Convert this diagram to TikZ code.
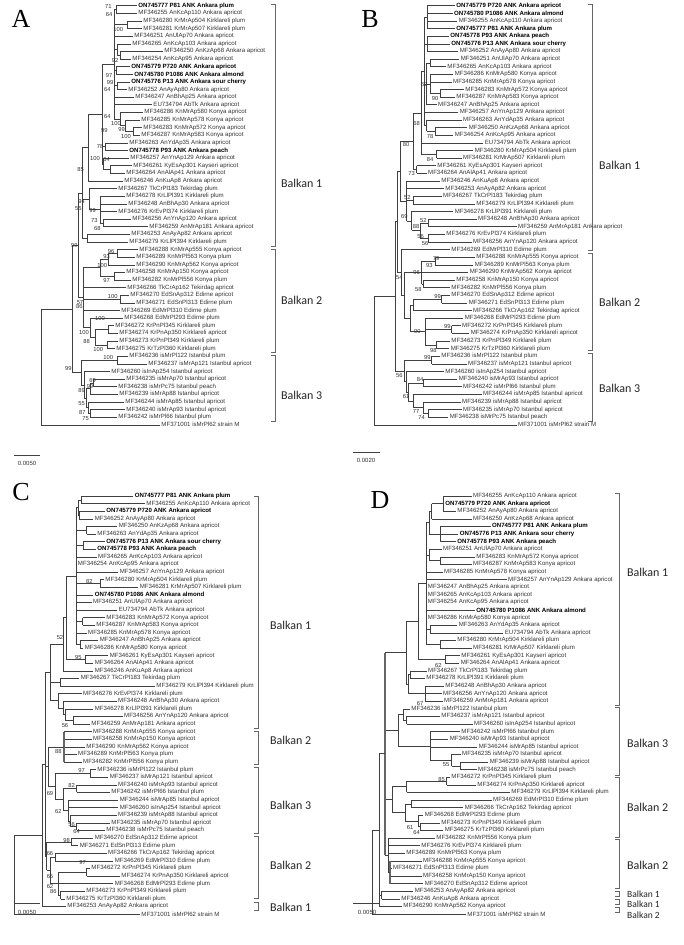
\documentclass[tikz,border=0pt]{standalone}
\usepackage{fontspec}
\setmainfont{Liberation Sans}
\newfontfamily\serifA{Liberation Serif}
\newfontfamily\balfont{Carlito}
\newcommand\lfont{\fontsize{6.1}{7}\selectfont}
\newcommand\lbfont{\fontsize{6.1}{7}\selectfont\bfseries}
\newcommand\bsfont{\fontsize{5.8}{6}\selectfont}
\tikzset{
  br/.style={draw=black!75,line width=0.55pt},
  brk/.style={draw=black!60,line width=1.6pt},
  lab/.style={anchor=west,inner sep=1.2pt,font=\lfont,text=black!80},
  labb/.style={anchor=west,inner sep=1.2pt,font=\lbfont,text=black},
  bs/.style={inner sep=0pt,font=\bsfont,text=black!80},
  bk/.style={draw=black!60,line width=0.6pt},
  bal/.style={anchor=west,inner sep=0pt,font=\balfont\fontsize{12}{13}\selectfont,text=black!85},
  bals/.style={anchor=west,inner sep=0pt,font=\balfont\fontsize{9.5}{10}\selectfont,text=black!85},
  pl/.style={font=\serifA\fontsize{26}{28}\selectfont},
  sc/.style={font=\fontsize{6}{7}\selectfont,text=black!80}
}
\def\yO{0}\def\yS{1}
\newcommand\yy[1]{(\yO+\yS*((#1)-1))}
\newcommand\Lf[4]{\draw[br] (#1,{\yy{#3}}) -- (#2,{\yy{#3}}) node[lab]{#4};}
\newcommand\Lb[4]{\draw[br] (#1,{\yy{#3}}) -- (#2,{\yy{#3}}) node[labb]{#4};}
\newcommand\Vt[3]{\draw[br] (#1,{\yy{#2}}) -- (#1,{\yy{#3}});}
\newcommand\Vk[3]{\draw[brk] (#1,{\yy{#2}}) -- (#1,{\yy{#3}});}
\newcommand\St[3]{\draw[br] (#1,{\yy{#3}}) -- (#2,{\yy{#3}});}
\newcommand\Bs[3]{\node[bs] at (#1,#2) {#3};}
\newcommand\Bk[3]{\draw[bk] (#1-4,#2) -- (#1,#2) -- (#1,#3) -- (#1-4,#3);}
\newcommand\Bt[3]{\node[bal] at (#1,#2) {#3};}
\newcommand\Bts[3]{\node[bals] at (#1,#2) {#3};}
\begin{document}
\begin{tikzpicture}[x=1pt,y=-1pt]
\fill[white] (0,0) rectangle (684,945);
\useasboundingbox (0,0) rectangle (684,945);
% ================= PANEL A =================
\node[pl] (pA) at (21,19) {A};
\def\yO{5.7}\def\yS{7.62}
\Lb{116}{137}{1}{ON745777 P81 ANK Ankara plum}
\Lf{116}{137}{2}{MF346255 AnKcAp110 Ankara apricot}
\Vt{116}{1}{2}\St{114}{116}{1.5}
\Lf{127}{142}{3}{MF346280 KrMrAp504 Kirklareli plum}
\Lf{127}{142}{4}{MF346281 KrMrAp507 Kirklareli plum}
\Vt{127}{3}{4}\St{114}{127}{3.5}
\Lf{114}{133}{5}{MF346251 AnUlAp70 Ankara apricot}
\Lf{117}{131}{6}{MF346265 AnKcAp103 Ankara apricot}
\Lf{120}{163}{7}{MF346250 AnKzAp68 Ankara apricot}
\Lf{120}{131}{8}{MF346254 AnKcAp95 Ankara apricot}
\Vt{120}{7}{8}\St{117}{120}{7.5}\Vt{117}{6}{7.5}\St{114}{117}{6.75}
\Lb{116}{130}{9}{ON745779 P720 ANK Ankara apricot}
\Lb{116}{133}{10}{ON745780 P1086 ANK Ankara almond}
\Vt{116}{9}{10}\St{114}{116}{9.5}
\Lb{117}{130}{11}{ON745776 P13 ANK Ankara sour cherry}
\Lf{117}{127}{12}{MF346252 AnAyAp80 Ankara apricot}
\Vt{117}{11}{12}\St{114}{117}{11.5}
\Lf{114}{134}{13}{MF346247 AnBhAp25 Ankara apricot}
\Lf{114}{152}{14}{EU734794 AbTk Ankara apricot}
\Lf{120}{143}{15}{MF346286 KnMrAp580 Konya apricot}
\Lf{125}{140}{16}{MF346285 KnMrAp578 Konya apricot}
\Lf{133}{142}{17}{MF346283 KnMrAp572 Konya apricot}
\Lf{133}{140}{18}{MF346287 KnMrAp583 Konya apricot}
\Vt{133}{17}{18}\St{125}{133}{17.5}\Vt{125}{16}{17.5}\St{120}{125}{16.75}\Vt{120}{15}{16.75}\St{114}{120}{15.875}
\Vt{114}{1.5}{15.875}\St{102}{114}{8.69}
\Lf{105}{128}{19}{MF346263 AnYdAp35 Ankara apricot}
\Lb{105}{128}{20}{ON745778 P93 ANK Ankara peach}
\Vt{105}{19}{20}\St{102}{105}{19.5}
\Lf{103}{129}{21}{MF346257 AnYnAp129 Ankara apricot}
\Lf{110}{132}{22}{MF346261 KyEsAp301 Kayseri apricot}
\Lf{110}{125}{23}{MF346264 AnAlAp41 Ankara apricot}
\Vt{110}{22}{23}\St{103}{110}{22.5}\Vt{103}{21}{22.5}\St{102}{103}{21.75}
\Vt{102}{8.69}{21.75}\St{88}{102}{15.22}
\Lf{88}{123}{24}{MF346246 AnKuAp8 Ankara apricot}
\Vt{88}{15.22}{24}\St{82}{88}{19.61}
\Lf{89}{117}{25}{MF346267 TkCrPl183 Tekirdag plum}
\Lf{100}{125}{26}{MF346278 KrLlPl391 Kirklareli plum}
\Lf{100}{127}{27}{MF346248 AnBhAp30 Ankara apricot}
\Lf{100}{117}{28}{MF346276 KrEvPl374 Kirklareli plum}
\Lf{103}{131}{29}{MF346256 AnYnAp120 Ankara apricot}
\Lf{103}{148}{30}{MF346259 AnMrAp181 Ankara apricot}
\Vt{103}{29}{30}\St{100}{103}{29.5}\Vt{100}{26}{29.5}\St{89}{100}{27.75}\Vt{89}{25}{27.75}\St{82}{89}{26.375}
\Lf{87}{130}{31}{MF346253 AnAyAp82 Ankara apricot}
\Lf{87}{128}{32}{MF346279 KrLlPl394 Kirklareli plum}
\Vt{87}{31}{32}\St{82}{87}{31.5}
\Vt{82}{19.61}{31.5}\St{78}{82}{25.56}
\Lf{117}{138}{33}{MF346288 KnMrAp555 Konya apricot}
\Lf{117}{135}{34}{MF346289 KnMrPl563 Konya plum}
\Vt{117}{33}{34}\St{108}{117}{33.5}
\Lf{108}{135}{35}{MF346290 KnMrAp562 Konya apricot}
\Vt{108}{33.5}{35}\St{100}{108}{34.25}
\Lf{114}{125}{36}{MF346258 KnMrAp150 Konya apricot}
\Lf{114}{131}{37}{MF346282 KnMrPl556 Konya plum}
\Vt{114}{36}{37}\St{100}{114}{36.5}
\Vt{100}{34.25}{36.5}\St{83}{100}{35.375}
\Lf{83}{126}{38}{MF346266 TkCrAp162 Tekirdag apricot}
\Lf{120}{129}{39}{MF346270 EdSnAp312 Edirne apricot}
\Lf{120}{135}{40}{MF346271 EdSnPl313 Edirne plum}
\Vt{120}{39}{40}\St{83}{120}{39.5}
\Lf{83}{120}{41}{MF346269 EdMrPl310 Edirne plum}
\Lf{90}{123}{42}{MF346268 EdMrPl293 Edirne plum}
\Lf{108}{114}{43}{MF346272 KrPnPl345 Kirklareli plum}
\Lf{108}{118}{44}{MF346274 KrPnAp350 Kirklareli apricot}
\Vt{108}{43}{44}\St{95}{108}{43.5}
\Lf{107}{118}{45}{MF346273 KrPnPl349 Kirklareli plum}
\Lf{107}{115}{46}{MF346275 KrTzPl360 Kirklareli plum}
\Vt{107}{45}{46}\St{95}{107}{45.5}
\Vt{95}{43.5}{45.5}\St{90}{95}{44.5}
\Vt{90}{42}{44.5}\St{83}{90}{43.25}
\Vt{83}{35.375}{43.25}\St{78}{83}{39.31}
\Vt{78}{25.56}{39.31}\St{72}{78}{32.44}
\Lf{117}{128}{47}{MF346236 isMrPl122 Istanbul plum}
\Lf{117}{147}{48}{MF346237 isMrAp121 Istanbul apricot}
\Vt{117}{47}{48}\St{81}{117}{47.5}
\Lf{84}{110}{49}{MF346260 isInAp254 Istanbul apricot}
\Lf{93}{125}{50}{MF346235 isMrAp70 Istanbul apricot}
\Lf{93}{117}{51}{MF346238 isMrPc75 Istanbul peach}
\Vt{93}{50}{51}\St{90}{93}{50.5}
\Lf{90}{118}{52}{MF346239 isMrAp88 Istanbul apricot}
\Vt{90}{50.5}{52}\St{86}{90}{51.25}
\Lf{88}{124}{53}{MF346244 isMrAp85 Istanbul apricot}
\Lf{90}{125}{54}{MF346240 isMrAp93 Istanbul apricot}
\Lf{90}{117}{55}{MF346242 isMrPl66 Istanbul plum}
\Vt{90}{54}{55}\St{88}{90}{54.5}
\Vt{88}{53}{54.5}\St{86}{88}{53.75}
\Vt{86}{51.25}{53.75}\St{84}{86}{52.5}
\Vt{84}{49}{52.5}\St{81}{84}{50.75}
\Vt{81}{47.5}{50.75}\St{72}{81}{49.125}
\Vt{72}{32.44}{49.125}\St{41}{72}{40.78}
\Vt{41}{40.78}{56}
\Lf{41}{160}{56}{MF371001 isMrPl62 strain M}
\Bs{108.3}{6.7}{71}\Bs{109}{15}{64}\Bs{118.3}{30}{100}\Bs{115}{60.7}{92}\Bs{109}{76}{97}
\Bs{110}{82.7}{99}\Bs{107.3}{89.3}{64}\Bs{107.3}{116.7}{64}\Bs{116}{124}{100}\Bs{104.3}{131}{99}
\Bs{121.7}{130}{99}\Bs{126}{136.7}{100}\Bs{100}{146.7}{78}\Bs{95}{158.3}{100}\Bs{106.7}{159.3}{64}
\Bs{80.7}{169.3}{85}\Bs{81.7}{201.7}{94}\Bs{78.3}{208.3}{55}\Bs{92.7}{210.7}{99}\Bs{94.3}{220}{73}
\Bs{97.3}{228.3}{68}\Bs{74.3}{245}{99}\Bs{111}{251}{96}\Bs{106.7}{256.7}{93}\Bs{102.3}{265}{100}
\Bs{106.7}{280.7}{97}\Bs{80}{302.7}{57}\Bs{79.3}{306.7}{86}\Bs{112.7}{296}{100}\Bs{100}{318.3}{100}
\Bs{84}{332.3}{100}\Bs{86.7}{341.7}{88}\Bs{98.3}{349.3}{100}\Bs{108.3}{357.7}{100}\Bs{68.3}{368.3}{99}
\Bs{92.7}{380}{69}\Bs{90}{386}{99}\Bs{81.7}{390}{89}\Bs{81.7}{403.3}{55}\Bs{82.3}{412.7}{87}\Bs{85.7}{418.3}{75}
\Bk{275}{4}{246}\Bk{275}{249}{352}\Bk{275}{355}{421}
\Bt{281}{183}{Balkan 1}\Bt{281}{300}{Balkan 2}\Bt{281}{395}{Balkan 3}
\draw[br] (14,455) -- (40,455);
\node[sc] (sA) at (27,463) {0.0050};
% ================= PANEL B =================
\node[pl] (pB) at (370,19) {B};
\def\yO{5.7}\def\yS{7.62}
\Lb{427}{455}{1}{ON745779 P720 ANK Ankara apricot}
\Lb{427}{452.7}{2}{ON745780 P1086 ANK Ankara almond}
\Lf{427}{457.3}{3}{MF346255 AnKcAp110 Ankara apricot}
\Lb{427}{455}{4}{ON745777 P81 ANK Ankara plum}
\Vt{427}{1}{4}\St{424}{427}{2.5}
\Lb{427}{449}{5}{ON745778 P93 ANK Ankara peach}
\Lb{427}{450}{6}{ON745776 P13 ANK Ankara sour cherry}
\Lf{427}{458.3}{7}{MF346252 AnAyAp80 Ankara apricot}
\Vt{427}{5}{7}\St{424}{427}{6}
\Lf{430.7}{459.3}{8}{MF346251 AnUlAp70 Ankara apricot}
\Lf{430.7}{446}{9}{MF346265 AnKcAp103 Ankara apricot}
\Vt{430.7}{8}{9}\St{426.5}{430.7}{8.5}
\Lf{430}{453.3}{10}{MF346286 KnMrAp580 Konya apricot}
\Lf{430}{451.7}{11}{MF346285 KnMrAp578 Konya apricot}
\Lf{440}{464}{12}{MF346283 KnMrAp572 Konya apricot}
\Lf{440}{455}{13}{MF346287 KnMrAp583 Konya apricot}
\Vt{440}{12}{13}\St{430}{440}{12.5}
\Vt{430}{10}{12.5}\St{426.5}{430}{11.25}
\Lf{426.5}{436.7}{14}{MF346247 AnBhAp25 Ankara apricot}
\Vt{426.5}{8.5}{14}\St{424}{426.5}{11.25}
\Lf{424}{458.3}{15}{MF346257 AnYnAp129 Ankara apricot}
\Lf{426.7}{461.7}{16}{MF346263 AnYdAp35 Ankara apricot}
\Lf{435}{467.3}{17}{MF346250 AnKzAp68 Ankara apricot}
\Lf{435}{453.3}{18}{MF346254 AnKcAp95 Ankara apricot}
\Vt{435}{17}{18}\St{426.7}{435}{17.5}
\Vt{426.7}{16}{17.5}\St{424}{426.7}{16.75}
\Vt{424}{2.5}{16.75}\St{421}{424}{9.625}
\Lf{421}{483.3}{19}{EU734794 AbTk Ankara apricot}
\Lf{436.7}{473.3}{20}{MF346280 KrMrAp504 Kirklareli plum}
\Lf{436.7}{461.7}{21}{MF346281 KrMrAp507 Kirklareli plum}
\Vt{436.7}{20}{21}\St{421}{436.7}{20.5}
\Vt{421}{9.625}{20.5}\St{413}{421}{15.06}
\Lf{416.7}{436}{22}{MF346261 KyEsAp301 Kayseri apricot}
\Lf{416.7}{426.7}{23}{MF346264 AnAlAp41 Ankara apricot}
\Vt{416.7}{22}{23}\St{413}{416.7}{22.5}
\Vt{413}{15.06}{22.5}\St{400}{413}{18.78}
\Lf{406.7}{440}{24}{MF346246 AnKuAp8 Ankara apricot}
\Lf{406.7}{444}{25}{MF346253 AnAyAp82 Ankara apricot}
\Lf{413.3}{441.7}{26}{MF346267 TkCrPl183 Tekirdag plum}
\Lf{413.3}{475}{27}{MF346279 KrLlPl394 Kirklareli plum}
\Vt{413.3}{26}{27}\St{406.7}{413.3}{26.5}
\Lf{411.7}{453.3}{28}{MF346278 KrLlPl391 Kirklareli plum}
\Lf{428.3}{476.7}{29}{MF346248 AnBhAp30 Ankara apricot}
\Lf{428.3}{516.7}{30}{MF346259 AnMrAp181 Ankara apricot}
\Vt{428.3}{29}{30}\St{420}{428.3}{29.5}
\Lf{428.3}{445}{31}{MF346276 KrEvPl374 Kirklareli plum}
\Lf{428.3}{471.7}{32}{MF346256 AnYnAp120 Ankara apricot}
\Vt{428.3}{31}{32}\St{420}{428.3}{31.5}
\Vt{420}{29.5}{31.5}\St{411.7}{420}{30.5}
\Vt{411.7}{28}{30.5}\St{406.7}{411.7}{29.25}
\Vt{406.7}{24}{29.25}\St{400}{406.7}{26.625}
\Vt{400}{18.78}{26.625}\St{397}{400}{22.70}
\Lf{401}{450}{33}{MF346269 EdMrPl310 Edirne plum}
\Lf{435}{475}{34}{MF346288 KnMrAp555 Konya apricot}
\Lf{435}{473.3}{35}{MF346289 KnMrPl563 Konya plum}
\Vt{435}{34}{35}\St{421.7}{435}{34.5}
\Lf{421.7}{468.3}{36}{MF346290 KnMrAp562 Konya apricot}
\Lf{423.3}{455}{37}{MF346258 KnMrAp150 Konya apricot}
\Lf{423.3}{450}{38}{MF346282 KnMrPl556 Konya plum}
\Vt{423.3}{37}{38}\St{421.7}{423.3}{37.5}
\Vt{421.7}{34.5}{37.5}\St{404}{421.7}{36}
\Lf{441.7}{450}{39}{MF346270 EdSnAp312 Edirne apricot}
\Lf{441.7}{467.3}{40}{MF346271 EdSnPl313 Edirne plum}
\Vt{441.7}{39}{40}\St{413.3}{441.7}{39.5}
\Lf{413.3}{471.7}{41}{MF346266 TkCrAp162 Tekirdag apricot}
\Vt{413.3}{39.5}{41}\St{410}{413.3}{40.25}
\Lf{425}{463.3}{42}{MF346268 EdMrPl293 Edirne plum}
\Lf{451.7}{460.7}{43}{MF346272 KrPnPl345 Kirklareli plum}
\Lf{451.7}{469.3}{44}{MF346274 KrPnAp350 Kirklareli apricot}
\Vt{451.7}{43}{44}\St{425}{451.7}{43.5}
\Lf{436.7}{450}{45}{MF346273 KrPnPl349 Kirklareli plum}
\Lf{436.7}{449.3}{46}{MF346275 KrTzPl360 Kirklareli plum}
\Vt{436.7}{45}{46}\St{425}{436.7}{45.5}
\Vt{425}{42}{45.5}\St{410}{425}{43.75}
\Vt{410}{40.25}{43.75}\St{404}{410}{42}
\Vt{404}{36}{42}\St{401}{404}{39}
\Vt{401}{33}{39}\St{397}{401}{36}
\Vt{397}{22.70}{36}\St{395}{397}{29.35}
\Lf{431.7}{440}{47}{MF346236 isMrPl122 Istanbul plum}
\Lf{431.7}{466.7}{48}{MF346237 isMrAp121 Istanbul apricot}
\Vt{431.7}{47}{48}\St{404}{431.7}{47.5}
\Lf{406}{444}{49}{MF346260 isInAp254 Istanbul apricot}
\Lf{423.3}{457.3}{50}{MF346240 isMrAp93 Istanbul apricot}
\Lf{423.3}{461.7}{51}{MF346242 isMrPl66 Istanbul plum}
\Vt{423.3}{50}{51}\St{408}{423.3}{50.5}
\Lf{413.3}{481.7}{52}{MF346244 isMrAp85 Istanbul apricot}
\Lf{423.3}{460.7}{53}{MF346239 isMrAp88 Istanbul apricot}
\Lf{428.3}{461.7}{54}{MF346235 isMrAp70 Istanbul apricot}
\Lf{428.3}{448.3}{55}{MF346238 isMrPc75 Istanbul peach}
\Vt{428.3}{54}{55}\St{423.3}{428.3}{54.5}
\Vt{423.3}{53}{54.5}\St{413.3}{423.3}{53.75}
\Vt{413.3}{52}{53.75}\St{408}{413.3}{52.875}
\Vt{408}{50.5}{52.875}\St{406}{408}{51.69}
\Vt{406}{49}{51.69}\St{404}{406}{50.34}
\Vt{404}{47.5}{50.34}\St{395}{404}{48.92}
\Vt{395}{29.35}{48.92}\St{374}{395}{39.14}
\Vt{374}{39.14}{56}
\Lf{374}{516.7}{56}{MF371001 isMrPl62 strain M}
\Bs{424.3}{85}{52}\Bs{435}{99}{90}\Bs{416.7}{123.3}{68}\Bs{430}{136.7}{78}\Bs{406}{145}{80}
\Bs{430}{159.3}{84}\Bs{411.7}{173.3}{73}\Bs{407.3}{197.3}{52}\Bs{404.3}{216}{69}\Bs{423.3}{220}{52}
\Bs{416}{226.7}{88}\Bs{420.7}{236.7}{56}\Bs{425}{243.3}{56}\Bs{436}{258.3}{79}\Bs{429.3}{265}{93}
\Bs{416.7}{272.7}{96}\Bs{399.3}{277.3}{54}\Bs{418.3}{289.3}{58}\Bs{437.7}{296}{99}\Bs{447.3}{326}{99}
\Bs{417.3}{331.7}{90}\Bs{433.3}{350}{98}\Bs{427.3}{357.7}{99}\Bs{399.3}{375}{56}\Bs{420}{379.3}{84}
\Bs{406}{396.7}{61}\Bs{416}{411.7}{77}\Bs{421.7}{417.3}{74}
\Bk{592}{4}{250}\Bk{592}{253}{350}\Bk{592}{353}{421}
\Bt{599}{165}{Balkan 1}\Bt{599}{302}{Balkan 2}\Bt{599}{388}{Balkan 3}
\draw[br] (353,452) -- (380,452);
\node[sc] (sB) at (366,460) {0.0020};
% ================= PANEL C =================
\node[pl] (pC) at (21,492) {C};
\def\yO{496}\def\yS{7.6}
\Lb{81.7}{133.3}{1}{ON745777 P81 ANK Ankara plum}
\Lf{81.7}{145}{2}{MF346255 AnKcAp110 Ankara apricot}
\Vt{81.7}{1}{2}\St{78.3}{81.7}{1.5}
\Lb{79.3}{105}{3}{ON745779 P720 ANK Ankara apricot}
\Lf{79.3}{93.3}{4}{MF346252 AnAyAp80 Ankara apricot}
\Vt{79.3}{3}{4}\St{78.3}{79.3}{3.5}
\Vt{78.3}{1.5}{3.5}\St{76}{78.3}{2.5}
\Lf{86.7}{117.3}{5}{MF346250 AnKzAp68 Ankara apricot}
\Lf{86.7}{96}{6}{MF346263 AnYdAp35 Ankara apricot}
\Vt{86.7}{5}{6}\St{76}{86.7}{5.5}
\Lb{83.3}{105}{7}{ON745776 P13 ANK Ankara sour cherry}
\Lb{83.3}{96}{8}{ON745778 P93 ANK Ankara peach}
\Vt{83.3}{7}{8}\St{76}{83.3}{7.5}
\Lf{76}{96.7}{9}{MF346265 AnKcAp103 Ankara apricot}
\Lf{76}{76.5}{10}{MF346254 AnKcAp95 Ankara apricot}
\Lf{76}{118.3}{11}{MF346257 AnYnAp129 Ankara apricot}
\Lf{100}{104}{12}{MF346280 KrMrAp504 Kirklareli plum}
\Lf{100}{138.3}{13}{MF346281 KrMrAp507 Kirklareli plum}
\Vt{100}{12}{13}\St{76}{100}{12.5}
\Lb{76}{93.3}{14}{ON745780 P1086 ANK Ankara almond}
\Lf{76}{91.7}{15}{MF346251 AnUlAp70 Ankara apricot}
\Lf{76}{117.3}{16}{EU734794 AbTk Ankara apricot}
\Lf{82.7}{105}{17}{MF346283 KnMrAp572 Konya apricot}
\Lf{82.7}{95}{18}{MF346287 KnMrAp583 Konya apricot}
\Vt{82.7}{17}{18}\St{76}{82.7}{17.5}
\Lf{76}{86.7}{19}{MF346285 KnMrAp578 Konya apricot}
\Lf{80}{98.3}{20}{MF346247 AnBhAp25 Ankara apricot}
\Lf{80}{83.3}{21}{MF346286 KnMrAp580 Konya apricot}
\Vt{80}{20}{21}\St{76}{80}{20.5}
\Vt{76}{2.5}{20.5}\St{66}{76}{11.5}
\Lf{85}{108.3}{22}{MF346261 KyEsAp301 Kayseri apricot}
\Lf{85}{93.3}{23}{MF346264 AnAlAp41 Ankara apricot}
\Vt{85}{22}{23}\St{66}{85}{22.5}
\Vt{66}{11.5}{22.5}\St{63}{66}{17}
\Lf{63}{93.3}{24}{MF346246 AnKuAp8 Ankara apricot}
\Vt{63}{17}{24}\St{50}{63}{20.5}
\Lf{60}{79.3}{25}{MF346267 TkCrPl183 Tekirdag plum}
\Lf{60}{155}{26}{MF346279 KrLlPl394 Kirklareli plum}
\Vt{60}{25}{26}\St{50}{60}{25.5}
\Lf{58.3}{81.7}{27}{MF346276 KrEvPl374 Kirklareli plum}
\Lf{63.3}{116.7}{28}{MF346248 AnBhAp30 Ankara apricot}
\Lf{65}{93.3}{29}{MF346278 KrLlPl391 Kirklareli plum}
\Lf{73.3}{122.7}{30}{MF346256 AnYnAp120 Ankara apricot}
\Lf{73.3}{90}{31}{MF346259 AnMrAp181 Ankara apricot}
\Vt{73.3}{30}{31}\St{65}{73.3}{30.5}
\Vt{65}{29}{30.5}\St{63.3}{65}{29.75}
\Vt{63.3}{28}{29.75}\St{58.3}{63.3}{28.875}
\Vt{58.3}{27}{28.875}\St{50}{58.3}{27.94}
\Vt{50}{20.5}{27.94}\St{45}{50}{24.22}
\Lf{64}{91.7}{32}{MF346288 KnMrAp555 Konya apricot}
\Lf{64}{91.7}{33}{MF346258 KnMrAp150 Konya apricot}
\Lf{64}{85}{34}{MF346290 KnMrAp562 Konya apricot}
\Lf{64}{76.7}{35}{MF346289 KnMrPl563 Konya plum}
\Lf{64}{81.7}{36}{MF346282 KnMrPl556 Konya plum}
\Vk{64}{32}{36}\St{48}{64}{34}
\Lf{90}{96}{37}{MF346236 isMrPl122 Istanbul plum}
\Lf{90}{108.3}{38}{MF346237 isMrAp121 Istanbul apricot}
\Vt{90}{37}{38}\St{55}{90}{37.5}
\Lf{76.7}{116.7}{39}{MF346240 isMrAp93 Istanbul apricot}
\Lf{76.7}{110}{40}{MF346242 isMrPl66 Istanbul plum}
\Vt{76.7}{39}{40}\St{63}{76.7}{39.5}
\Lf{68.3}{118.3}{41}{MF346244 isMrAp85 Istanbul apricot}
\Lf{68.3}{118.3}{42}{MF346260 isInAp254 Istanbul apricot}
\Lf{70}{116.7}{43}{MF346239 isMrAp88 Istanbul apricot}
\Lf{76.7}{110}{44}{MF346235 isMrAp70 Istanbul apricot}
\Lf{76.7}{105}{45}{MF346238 isMrPc75 Istanbul peach}
\Vt{76.7}{44}{45}\St{70}{76.7}{44.5}
\Vt{70}{43}{44.5}\St{68.3}{70}{43.75}
\Vt{68.3}{41}{43.75}\St{63}{68.3}{42.375}
\Vt{63}{39.5}{42.375}\St{55}{63}{40.94}
\Vt{55}{37.5}{40.94}\St{48}{55}{39.22}
\Vt{48}{34}{39.22}\St{45}{48}{36.61}
\Lf{71.7}{93.3}{46}{MF346270 EdSnAp312 Edirne apricot}
\Lf{71.7}{78.3}{47}{MF346271 EdSnPl313 Edirne plum}
\Vt{71.7}{46}{47}\St{46.5}{71.7}{46.5}
\Lf{55}{106.7}{48}{MF346266 TkCrAp162 Tekirdag apricot}
\Lf{55}{113.3}{49}{MF346269 EdMrPl310 Edirne plum}
\Vt{55}{48}{49}\St{50}{55}{48.5}
\Lf{86.7}{90}{50}{MF346272 KrPnPl345 Kirklareli plum}
\Lf{86.7}{120}{51}{MF346274 KrPnAp350 Kirklareli apricot}
\Vt{86.7}{50}{51}\St{58}{86.7}{50.5}
\Lf{58}{113.3}{52}{MF346268 EdMrPl293 Edirne plum}
\Lf{60.7}{85}{53}{MF346273 KrPnPl349 Kirklareli plum}
\Lf{60.7}{65}{54}{MF346275 KrTzPl360 Kirklareli plum}
\Vt{60.7}{53}{54}\St{58}{60.7}{53.5}
\Vt{58}{50.5}{53.5}\St{50}{58}{52}
\Vt{50}{48.5}{52}\St{46.5}{50}{50.25}
\Vt{46.5}{46.5}{50.25}\St{45}{46.5}{48.375}
\Vt{45}{24.22}{48.375}\St{42}{45}{36.3}
\Lf{42}{66}{55}{MF346253 AnAyAp82 Ankara apricot}
\Vt{42}{36.3}{55}\St{14}{42}{45.65}
\Vt{14}{45.65}{56}
\Lf{14}{140}{56}{MF371001 isMrPl62 strain M}
\Bs{89.3}{581.7}{82}\Bs{60}{637.7}{52}\Bs{78.3}{657.7}{95}\Bs{65}{725.7}{56}\Bs{58.3}{751}{88}
\Bs{81.7}{770}{97}\Bs{71.7}{785}{82}\Bs{50}{793.3}{69}\Bs{58.3}{811}{62}\Bs{71.7}{824.3}{56}
\Bs{76.7}{831.7}{64}\Bs{66.7}{840}{98}\Bs{50}{853.3}{66}\Bs{82.7}{862.3}{97}\Bs{50}{876.7}{65}
\Bs{50}{886}{62}\Bs{53.3}{891.7}{86}
\Bk{258}{496}{728}\Bk{258}{731}{764}\Bk{258}{767}{833}\Bk{258}{836}{898}\Bk{258}{902}{910}
\Bt{270}{625}{Balkan 1}\Bt{270}{740}{Balkan 2}\Bt{270}{805}{Balkan 3}\Bt{270}{865}{Balkan 2}\Bt{270}{907}{Balkan 1}
\draw[br] (14,903) -- (40,903);
\node[sc] (sC) at (27,912) {0.0050};
% ================= PANEL D =================
\node[pl] (pD) at (380,500) {D};
\def\yO{496}\def\yS{7.6}
\Lf{443.3}{471.7}{1}{MF346255 AnKcAp110 Ankara apricot}
\Lb{443.3}{444}{2}{ON745779 P720 ANK Ankara apricot}
\Lf{443.3}{456}{3}{MF346252 AnAyAp80 Ankara apricot}
\Vt{443.3}{1}{3}\St{431.7}{443.3}{2}
\Lf{431.7}{471.7}{4}{MF346250 AnKzAp68 Ankara apricot}
\Vt{431.7}{2}{4}\St{429.3}{431.7}{3}
\Lb{440}{490.7}{5}{ON745777 P81 ANK Ankara plum}
\Lb{440}{458.3}{6}{ON745776 P13 ANK Ankara sour cherry}
\Lb{440}{456}{7}{ON745778 P93 ANK Ankara peach}
\Vt{440}{5}{7}\St{429.3}{440}{6}
\Vt{429.3}{3}{6}\St{426}{429.3}{4.5}
\Lf{429.3}{441.7}{8}{MF346251 AnUlAp70 Ankara apricot}
\Lf{440}{475}{9}{MF346283 KnMrAp572 Konya apricot}
\Lf{440}{471.7}{10}{MF346287 KnMrAp583 Konya apricot}
\Vt{440}{9}{10}\St{429.3}{440}{9.5}
\Vt{429.3}{8}{9.5}\St{426}{429.3}{8.75}
\Lf{426}{442.7}{11}{MF346285 KnMrAp578 Konya apricot}
\Lf{426}{506.7}{12}{MF346257 AnYnAp129 Ankara apricot}
\Lf{426}{426.5}{13}{MF346247 AnBhAp25 Ankara apricot}
\Lf{426}{426.5}{14}{MF346265 AnKcAp103 Ankara apricot}
\Lf{426}{426.5}{15}{MF346254 AnKcAp95 Ankara apricot}
\Lb{426}{475}{16}{ON745780 P1086 ANK Ankara almond}
\Lf{426}{426.5}{17}{MF346286 KnMrAp580 Konya apricot}
\Lf{430}{457.3}{18}{MF346263 AnYdAp35 Ankara apricot}
\Lf{430}{503.3}{19}{EU734794 AbTk Ankara apricot}
\Vt{430}{18}{19}\St{426}{430}{18.5}
\Lf{440}{456}{20}{MF346280 KrMrAp504 Kirklareli plum}
\Lf{440}{471.7}{21}{MF346281 KrMrAp507 Kirklareli plum}
\Vt{440}{20}{21}\St{426}{440}{20.5}
\Vt{426}{4.5}{20.5}\St{418}{426}{12.5}
\Lf{445}{460}{22}{MF346261 KyEsAp301 Kayseri apricot}
\Lf{445}{459.3}{23}{MF346264 AnAlAp41 Ankara apricot}
\Vt{445}{22}{23}\St{418}{445}{22.5}
\Vt{418}{12.5}{22.5}\St{406}{418}{17.5}
\Lf{410}{426.7}{24}{MF346267 TkCrPl183 Tekirdag plum}
\Lf{410}{425}{25}{MF346278 KrLlPl391 Kirklareli plum}
\Vt{410}{24}{25}\St{408}{410}{24.5}
\Lf{425}{444}{26}{MF346248 AnBhAp30 Ankara apricot}
\Lf{425}{441.7}{27}{MF346256 AnYnAp120 Ankara apricot}
\Lf{425}{442.7}{28}{MF346259 AnMrAp181 Ankara apricot}
\Vt{425}{26}{28}\St{408}{425}{27}
\Vt{408}{24.5}{27}\St{406}{408}{25.75}
\Vt{406}{17.5}{25.75}\St{385}{406}{21.6}
\Lf{403.3}{410}{29}{MF346236 isMrPl122 Istanbul plum}
\Lf{406.7}{440}{30}{MF346237 isMrAp121 Istanbul apricot}
\Lf{406.7}{472.7}{31}{MF346260 isInAp254 Istanbul apricot}
\Vt{406.7}{30}{31}\St{403.3}{406.7}{30.5}
\Vt{403.3}{29}{30.5}\St{398}{403.3}{29.75}
\Lf{430}{460}{32}{MF346242 isMrPl66 Istanbul plum}
\Lf{430}{448.3}{33}{MF346240 isMrAp93 Istanbul apricot}
\Lf{430}{477.3}{34}{MF346244 isMrAp85 Istanbul apricot}
\Lf{451.7}{460.7}{35}{MF346235 isMrAp70 Istanbul apricot}
\Lf{460}{488.3}{36}{MF346239 isMrAp88 Istanbul apricot}
\Lf{460}{476.7}{37}{MF346238 isMrPc75 Istanbul peach}
\Vt{460}{36}{37}\St{451.7}{460}{36.5}
\Vt{451.7}{35}{36.5}\St{430}{451.7}{35.75}
\Vt{430}{32}{35.75}\St{398}{430}{33.875}
\Vt{398}{29.75}{33.875}\St{385}{398}{31.81}
\Lf{446.7}{450}{38}{MF346272 KrPnPl345 Kirklareli plum}
\Lf{446.7}{476}{39}{MF346274 KrPnAp350 Kirklareli apricot}
\Vt{446.7}{38}{39}\St{406.7}{446.7}{38.5}
\Lf{406.7}{510}{40}{MF346279 KrLlPl394 Kirklareli plum}
\Vt{406.7}{38.5}{40}\St{392}{406.7}{39.25}
\Lf{411.7}{491.7}{41}{MF346269 EdMrPl310 Edirne plum}
\Lf{411.7}{463.3}{42}{MF346266 TkCrAp162 Tekirdag apricot}
\Vt{411.7}{41}{42}\St{405}{411.7}{41.5}
\Lf{418.3}{423.3}{43}{MF346268 EdMrPl293 Edirne plum}
\Lf{420}{440}{44}{MF346273 KrPnPl349 Kirklareli plum}
\Lf{420}{443.3}{45}{MF346275 KrTzPl360 Kirklareli plum}
\Vt{420}{44}{45}\St{418.3}{420}{44.5}
\Vt{418.3}{43}{44.5}\St{405}{418.3}{43.75}
\Vt{405}{41.5}{43.75}\St{392}{405}{42.625}
\Vt{392}{39.25}{42.625}\St{385}{392}{40.94}
\Lf{388.3}{435}{46}{MF346282 KnMrPl556 Konya plum}
\Lf{388.3}{420}{47}{MF346276 KrEvPl374 Kirklareli plum}
\Lf{388.3}{405}{48}{MF346289 KnMrPl563 Konya plum}
\Lf{390}{421.7}{49}{MF346288 KnMrAp555 Konya apricot}
\Lf{390}{391.7}{50}{MF346271 EdSnPl313 Edirne plum}
\Lf{390}{421.7}{51}{MF346258 KnMrAp150 Konya apricot}
\Lf{390}{423.3}{52}{MF346270 EdSnAp312 Edirne apricot}
\Vk{390}{49}{52}\St{388.3}{390}{50.5}
\Vt{388.3}{46}{50.5}\St{385}{388.3}{48.25}
\Vk{385}{21.6}{48.25}\St{379}{385}{34.9}
\Lf{381.7}{413.3}{53}{MF346253 AnAyAp82 Ankara apricot}
\Lf{381.7}{400}{54}{MF346246 AnKuAp8 Ankara apricot}
\Vt{381.7}{53}{54}\St{379}{381.7}{53.5}
\Lf{379}{402}{55}{MF346290 KnMrAp562 Konya apricot}
\Vt{379}{34.9}{55}\St{372}{379}{44.95}
\Vt{372}{44.95}{56}
\Lf{372}{466}{56}{MF371001 isMrPl62 strain M}
\Bs{438.3}{665}{62}\Bs{420}{703.3}{67}\Bs{446}{765}{55}\Bs{441.7}{779}{85}\Bs{410}{827.7}{61}\Bs{416.7}{832.3}{64}
\Bk{619}{493}{705}\Bk{619}{707}{775}\Bk{619}{777}{837}\Bk{619}{839}{888}
\Bk{619}{891}{896}\Bk{619}{899}{904}\Bk{619}{907}{912}
\Bt{627}{572}{Balkan 1}\Bt{627}{743}{Balkan 3}\Bt{627}{807}{Balkan 2}\Bt{627}{865}{Balkan 2}
\Bts{627}{894}{Balkan 1}\Bts{627}{904.5}{Balkan 1}\Bts{627}{915}{Balkan 2}
\draw[br] (353,903) -- (380,903);
\node[sc] (sD) at (367,912) {0.0050};
\end{tikzpicture}
\end{document}
